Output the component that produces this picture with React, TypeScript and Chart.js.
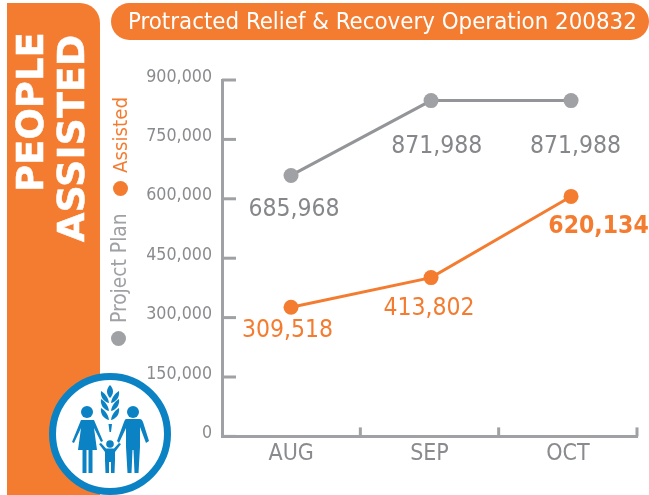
import React, { useEffect, useRef } from "react";
import { Chart, registerables } from "chart.js";

Chart.register(...registerables);

const categories = ["AUG", "SEP", "OCT"];
const pointSlots = [0, 1, 2];
const planValues = [659000, 848000, 848000];
const assistedValues = [326000, 401000, 606000];
const planLabels = ["685,968", "871,988", "871,988"];
const assistedLabels = ["309,518", "413,802", "620,134"];
const yTicks = [0, 150000, 300000, 450000, 600000, 750000, 900000];

const ORANGE = "#f47c30";
const GREY = "#8a8b8e";
const MARK_GREY = "#a0a1a4";
const LINE_GREY = "#939598";
const BLUE = "#0a82c4";
const FONT = "'DejaVu Sans Condensed', 'DejaVu Sans', sans-serif";

const labelPlugin = {
  id: "pointLabels",
  afterDatasetsDraw(chart: any) {
    const { ctx } = chart;
    ctx.save();
    ctx.textAlign = "center";
    ctx.textBaseline = "alphabetic";
    const draw = (i: number, texts: string[], color: string, dxs: number[], dys: number[], bolds: boolean[]) => {
      chart.getDatasetMeta(i).data.forEach((p: any, k: number) => {
        ctx.fillStyle = color;
        ctx.font = `${bolds[k] ? "bold " : ""}24.5px ${FONT}`;
        ctx.fillText(texts[k], p.x + dxs[k], p.y + dys[k]);
      });
    };
    draw(0, planLabels, "#86878a", [3, 5.7, 4.5], [41, 52, 52], [false, false, false]);
    draw(1, assistedLabels, ORANGE, [-3.5, -2, 27.5], [30, 37, 37], [false, false, true]);
    ctx.restore();
  },
};

const rotated = (style: React.CSSProperties): React.CSSProperties => ({
  position: "absolute",
  whiteSpace: "nowrap",
  transformOrigin: "0 0",
  transform: "rotate(-90deg)",
  ...style,
});

const LEAF = "M61 12C56 11 52 6 53 0C56 2 60 5 61 12Z";
const LEAF_ROWS = [19, 27, 36];

function FamilyIcon() {
  return (
    <svg width={124} height={124} viewBox="0 0 124 124" style={{ position: "absolute", left: 48, top: 372 }}>
      <circle cx={62} cy={62} r={57.5} fill="#fff" stroke={BLUE} strokeWidth={7} />
      <g fill={BLUE}>
        <path d="M62 13C66 17 66 22 62 26C58 22 58 17 62 13Z" />
        {LEAF_ROWS.map((y) => (
          <g key={y}>
            <path d={LEAF} transform={`translate(0 ${y})`} />
            <path d={LEAF} transform={`translate(124 ${y}) scale(-1 1)`} />
          </g>
        ))}
        <path d="M60.5 52H64L63 60H61.500Z" />
        <circle cx={39} cy={40} r={6} />
        <circle cx={85} cy={40} r={6} />
        <circle cx={62} cy={72} r={3.8} />
        <path d="M33 48H46L55 69L53 70L46 56L49 78H44.500V101H40.500V78H38.500V101H34.500V78H30L33 56L26 71L24 70Z" />
        <path d="M78 47H92Q94 47 95 50L101 69L98 71L92 55V75L90.500 101H86.500L85.500 78H84.500L83.500 101H79.500L78 75V56L71 71L69 69L76 50Q77 47 78 47Z" />
        <path d="M51 72L53 71L58 76.500H66L71 71L73 72L67 80V88L66.500 101H63V90H61V101H57.500L57 88V80Z" />
      </g>
    </svg>
  );
}

export default function App() {
  const ref = useRef<HTMLCanvasElement | null>(null);

  useEffect(() => {
    const chart = new Chart(ref.current as HTMLCanvasElement, {
      type: "line",
      data: {
        labels: categories,
        datasets: [
          {
            label: "Project Plan",
            xAxisID: "slots",
            data: pointSlots.map((x, i) => ({ x, y: planValues[i] })),
            borderColor: LINE_GREY,
            backgroundColor: MARK_GREY,
            pointBackgroundColor: MARK_GREY,
            pointBorderWidth: 0,
            pointRadius: 7.5,
            borderWidth: 3,
            tension: 0,
          },
          {
            label: "Assisted",
            xAxisID: "slots",
            data: pointSlots.map((x, i) => ({ x, y: assistedValues[i] })),
            borderColor: ORANGE,
            backgroundColor: ORANGE,
            pointBackgroundColor: ORANGE,
            pointBorderWidth: 0,
            pointRadius: 7.5,
            borderWidth: 3,
            tension: 0,
          },
        ],
      },
      options: {
        animation: false,
        responsive: false,
        layout: { padding: { left: 122, top: 80, right: 12, bottom: 23 } },
        plugins: { legend: { display: false }, tooltip: { enabled: false } },
        scales: {
          slots: { type: "linear", display: false, min: -0.493, max: 2.471 },
          x: {
            offset: true,
            border: { color: MARK_GREY, width: 3 },
            grid: { offset: true, drawOnChartArea: false, tickLength: 0, color: MARK_GREY },
            ticks: { color: GREY, font: { family: FONT, size: 23 }, padding: 4, maxRotation: 0 },
          },
          y: {
            min: 0,
            max: 900000,
            afterBuildTicks: (s: any) => {
              s.ticks = yTicks.map((value) => ({ value }));
            },
            afterFit: (s: any) => {
              s.width = 100;
            },
            border: { color: MARK_GREY, width: 3 },
            grid: { display: false },
            ticks: {
              color: GREY,
              font: { family: FONT, size: 17.7 },
              padding: 2,
              labelOffset: -3,
              callback: (v: any) => Number(v).toLocaleString("en-US"),
            },
          },
        },
      },
      plugins: [
        labelPlugin,
        {
          id: "innerTicks",
          afterDraw(c: any) {
            const { ctx, scales, chartArea } = c;
            ctx.save();
            ctx.strokeStyle = MARK_GREY;
            ctx.lineWidth = 3;
            yTicks.forEach((v) => {
              const y = scales.y.getPixelForValue(v);
              ctx.beginPath();
              ctx.moveTo(chartArea.left, y);
              ctx.lineTo(chartArea.left + 14, y);
              ctx.stroke();
            });
            const n = categories.length;
            for (let i = 1; i <= n; i++) {
              const x = chartArea.left + ((chartArea.right - chartArea.left) * i) / n;
              ctx.beginPath();
              ctx.moveTo(x, chartArea.bottom);
              ctx.lineTo(x, chartArea.bottom - 9);
              ctx.stroke();
            }
            ctx.restore();
          },
        },
      ],
    } as any);
    return () => chart.destroy();
  }, []);

  return (
    <div style={{ position: "absolute", left: 0, top: 0, width: 649, height: 495, overflow: "hidden", background: "#fff", fontFamily: FONT }}>
      <div style={{ position: "absolute", left: 7, top: 3, width: 93, height: 492, background: ORANGE, borderTopRightRadius: 20 }} />
      <canvas ref={ref} width={649} height={495} style={{ position: "absolute", left: 0, top: 0 }} />
      <div style={{ position: "absolute", left: 111, top: 3, width: 538, height: 37, background: ORANGE, borderRadius: 19, color: "#fff", fontFamily: FONT, fontSize: 23.8, lineHeight: "37px", paddingLeft: 17, boxSizing: "border-box", whiteSpace: "nowrap" }}>
        Protracted Relief &amp; Recovery Operation 200832
      </div>
      <div style={rotated({ left: 10, top: 192, color: "#fff", fontFamily: "'DejaVu Sans', sans-serif", fontWeight: "bold", fontSize: 37, lineHeight: "42px", WebkitTextStroke: "0.5px #fff" })}>PEOPLE</div>
      <div style={rotated({ left: 50, top: 242, color: "#fff", fontFamily: "'DejaVu Sans', sans-serif", fontWeight: "bold", fontSize: 38, lineHeight: "42px", WebkitTextStroke: "0.5px #fff" })}>ASSISTED</div>
      <div style={rotated({ left: 108, top: 173, color: ORANGE, fontSize: 20.3, lineHeight: "24px" })}>Assisted</div>
      <div style={{ position: "absolute", left: 113, top: 180.5, width: 15, height: 15, borderRadius: 8, background: ORANGE }} />
      <div style={rotated({ left: 107, top: 323, color: MARK_GREY, fontSize: 20.8, lineHeight: "24px" })}>Project Plan</div>
      <div style={{ position: "absolute", left: 111, top: 330.5, width: 15, height: 15, borderRadius: 8, background: MARK_GREY }} />
      <FamilyIcon />
    </div>
  );
}
